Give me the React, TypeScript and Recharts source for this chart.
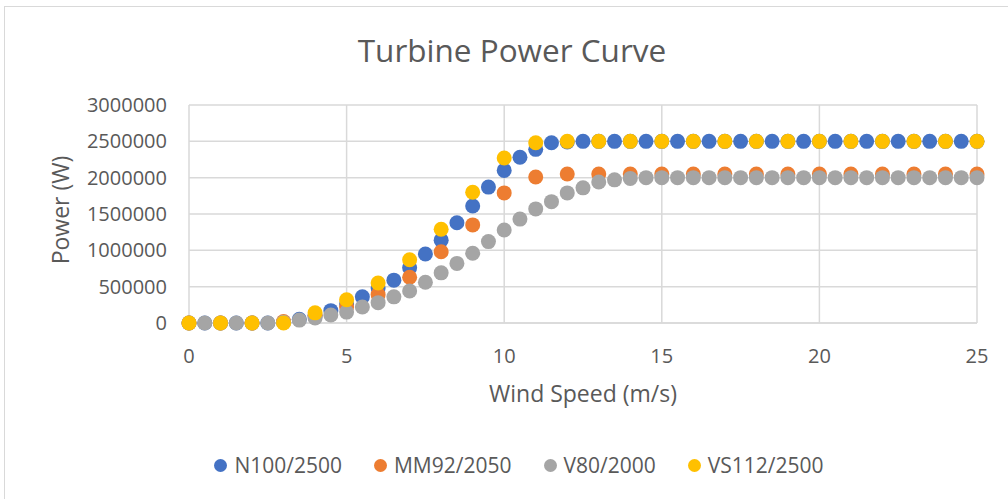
import React from 'react';
import {
  ScatterChart,
  Scatter,
  XAxis,
  YAxis,
  CartesianGrid,
} from 'recharts';

// wind speeds (m/s) used by each turbine's data table
const halfStepSpeeds = [
  0, 0.5, 1, 1.5, 2, 2.5, 3, 3.5, 4, 4.5, 5, 5.5, 6, 6.5, 7, 7.5, 8, 8.5, 9, 9.5,
  10, 10.5, 11, 11.5, 12, 12.5, 13, 13.5, 14, 14.5, 15, 15.5, 16, 16.5, 17, 17.5,
  18, 18.5, 19, 19.5, 20, 20.5, 21, 21.5, 22, 22.5, 23, 23.5, 24, 24.5, 25,
];
const wholeStepSpeeds = [
  0, 1, 2, 3, 4, 5, 6, 7, 8, 9, 10, 11, 12, 13, 14, 15, 16, 17, 18, 19, 20, 21, 22,
  23, 24, 25,
];

// power output (W)
const n100Power = [
  0, 0, 0, 0, 0, 0, 10000, 50000, 100000, 170000, 260000, 360000, 480000, 590000,
  760000, 950000, 1140000, 1380000, 1610000, 1870000, 2100000, 2280000, 2390000,
  2480000, 2490000, 2500000, 2500000, 2500000, 2500000, 2500000, 2500000, 2500000,
  2500000, 2500000, 2500000, 2500000, 2500000, 2500000, 2500000, 2500000, 2500000,
  2500000, 2500000, 2500000, 2500000, 2500000, 2500000, 2500000, 2500000, 2500000,
  2500000,
];
const mm92Power = [
  0, 0, 0, 20000, 100000, 220000, 390000, 630000, 980000, 1350000, 1790000, 2010000,
  2050000, 2050000, 2050000, 2050000, 2050000, 2050000, 2050000, 2050000, 2050000,
  2050000, 2050000, 2050000, 2050000, 2050000,
];
const v80Power = [
  0, 0, 0, 0, 0, 0, 10000, 40000, 70000, 110000, 150000, 220000, 280000, 360000,
  440000, 560000, 690000, 820000, 960000, 1120000, 1280000, 1430000, 1570000,
  1670000, 1790000, 1860000, 1940000, 1970000, 1990000, 2000000, 2000000, 2000000,
  2000000, 2000000, 2000000, 2000000, 2000000, 2000000, 2000000, 2000000, 2000000,
  2000000, 2000000, 2000000, 2000000, 2000000, 2000000, 2000000, 2000000, 2000000,
  2000000,
];
const vs112Power = [
  0, 0, 0, 0, 140000, 320000, 550000, 870000, 1290000, 1800000, 2270000, 2480000,
  2500000, 2500000, 2500000, 2500000, 2500000, 2500000, 2500000, 2500000, 2500000,
  2500000, 2500000, 2500000, 2500000, 2500000,
];

const xTicks = [0, 5, 10, 15, 20, 25];
const yTicks = [0, 500000, 1000000, 1500000, 2000000, 2500000, 3000000];

const toPoints = (xs: number[], ys: number[]) => xs.map((x, i) => ({ x, y: ys[i] }));

const SERIES = [
  { name: 'N100/2500', color: '#4472C4', data: toPoints(halfStepSpeeds, n100Power) },
  { name: 'MM92/2050', color: '#ED7D31', data: toPoints(wholeStepSpeeds, mm92Power) },
  { name: 'V80/2000', color: '#A5A5A5', data: toPoints(halfStepSpeeds, v80Power) },
  { name: 'VS112/2500', color: '#FFC000', data: toPoints(wholeStepSpeeds, vs112Power) },
];

const FONT = '"Open Sans", sans-serif';
const TEXT = '#595959';
const GRID = '#d9d9d9';

const dot = (color: string) => (props: any) => (
  <circle cx={props.cx} cy={props.cy} r={7.5} fill={color} />
);

export default function App() {
  return (
    <div
      style={{
        position: 'absolute',
        left: 0,
        top: 0,
        width: 1008,
        height: 499,
        overflow: 'hidden',
        background: '#fff',
        fontFamily: FONT,
      }}
    >
      {/* chart frame */}
      <div
        style={{
          position: 'absolute',
          left: 4,
          top: 6,
          width: 1020,
          height: 510,
          border: `1px solid ${GRID}`,
        }}
      />

      <ScatterChart
        width={1008}
        height={499}
        margin={{ top: 105, right: 31, bottom: 146, left: 99 }}
        style={{ position: 'absolute', left: 0, top: 0 }}
      >
        <CartesianGrid stroke={GRID} strokeWidth={1.5} />
        <XAxis
          type="number"
          dataKey="x"
          domain={[0, 25]}
          ticks={xTicks}
          height={30}
          tickSize={0}
          tickMargin={26}
          axisLine={{ stroke: GRID, strokeWidth: 1.5 }}
          tickLine={false}
          tick={{ fill: TEXT, fontSize: 20, fontFamily: FONT }}
          label={{
            value: 'Wind Speed (m/s)',
            position: 'bottom',
            offset: 33,
            fill: TEXT,
            fontSize: 23,
            fontFamily: FONT,
          }}
        />
        <YAxis
          type="number"
          dataKey="y"
          domain={[0, 3000000]}
          ticks={yTicks}
          width={90}
          tickSize={0}
          tickMargin={22}
          axisLine={false}
          tickLine={false}
          tick={{ fill: TEXT, fontSize: 20, fontFamily: FONT }}
        />
        {SERIES.map((s) => (
          <Scatter
            key={s.name}
            name={s.name}
            data={s.data}
            fill={s.color}
            shape={dot(s.color)}
            isAnimationActive={false}
          />
        ))}
      </ScatterChart>

      {/* title and y-axis title */}
      <svg
        width={1008}
        height={499}
        style={{ position: 'absolute', left: 0, top: 0, pointerEvents: 'none' }}
      >
        <text x={512} y={62} textAnchor="middle" fill={TEXT} fontSize={31.5} fontFamily={FONT}>
          Turbine Power Curve
        </text>
        <text
          x={0}
          y={0}
          textAnchor="middle"
          fill={TEXT}
          fontSize={23}
          fontFamily={FONT}
          transform="translate(69 210) rotate(-90)"
        >
          Power (W)
        </text>
      </svg>

      {/* legend */}
      <div
        style={{
          position: 'absolute',
          left: 0,
          top: 451,
          width: 1038,
          display: 'flex',
          justifyContent: 'center',
          gap: 32,
          fontSize: 21,
          color: TEXT,
          lineHeight: '28px',
        }}
      >
        {SERIES.map((s) => (
          <div key={s.name} style={{ display: 'flex', alignItems: 'center' }}>
            <span
              style={{
                width: 13,
                height: 13,
                borderRadius: '50%',
                background: s.color,
                marginRight: 7,
              }}
            />
            <span>{s.name}</span>
          </div>
        ))}
      </div>
    </div>
  );
}
